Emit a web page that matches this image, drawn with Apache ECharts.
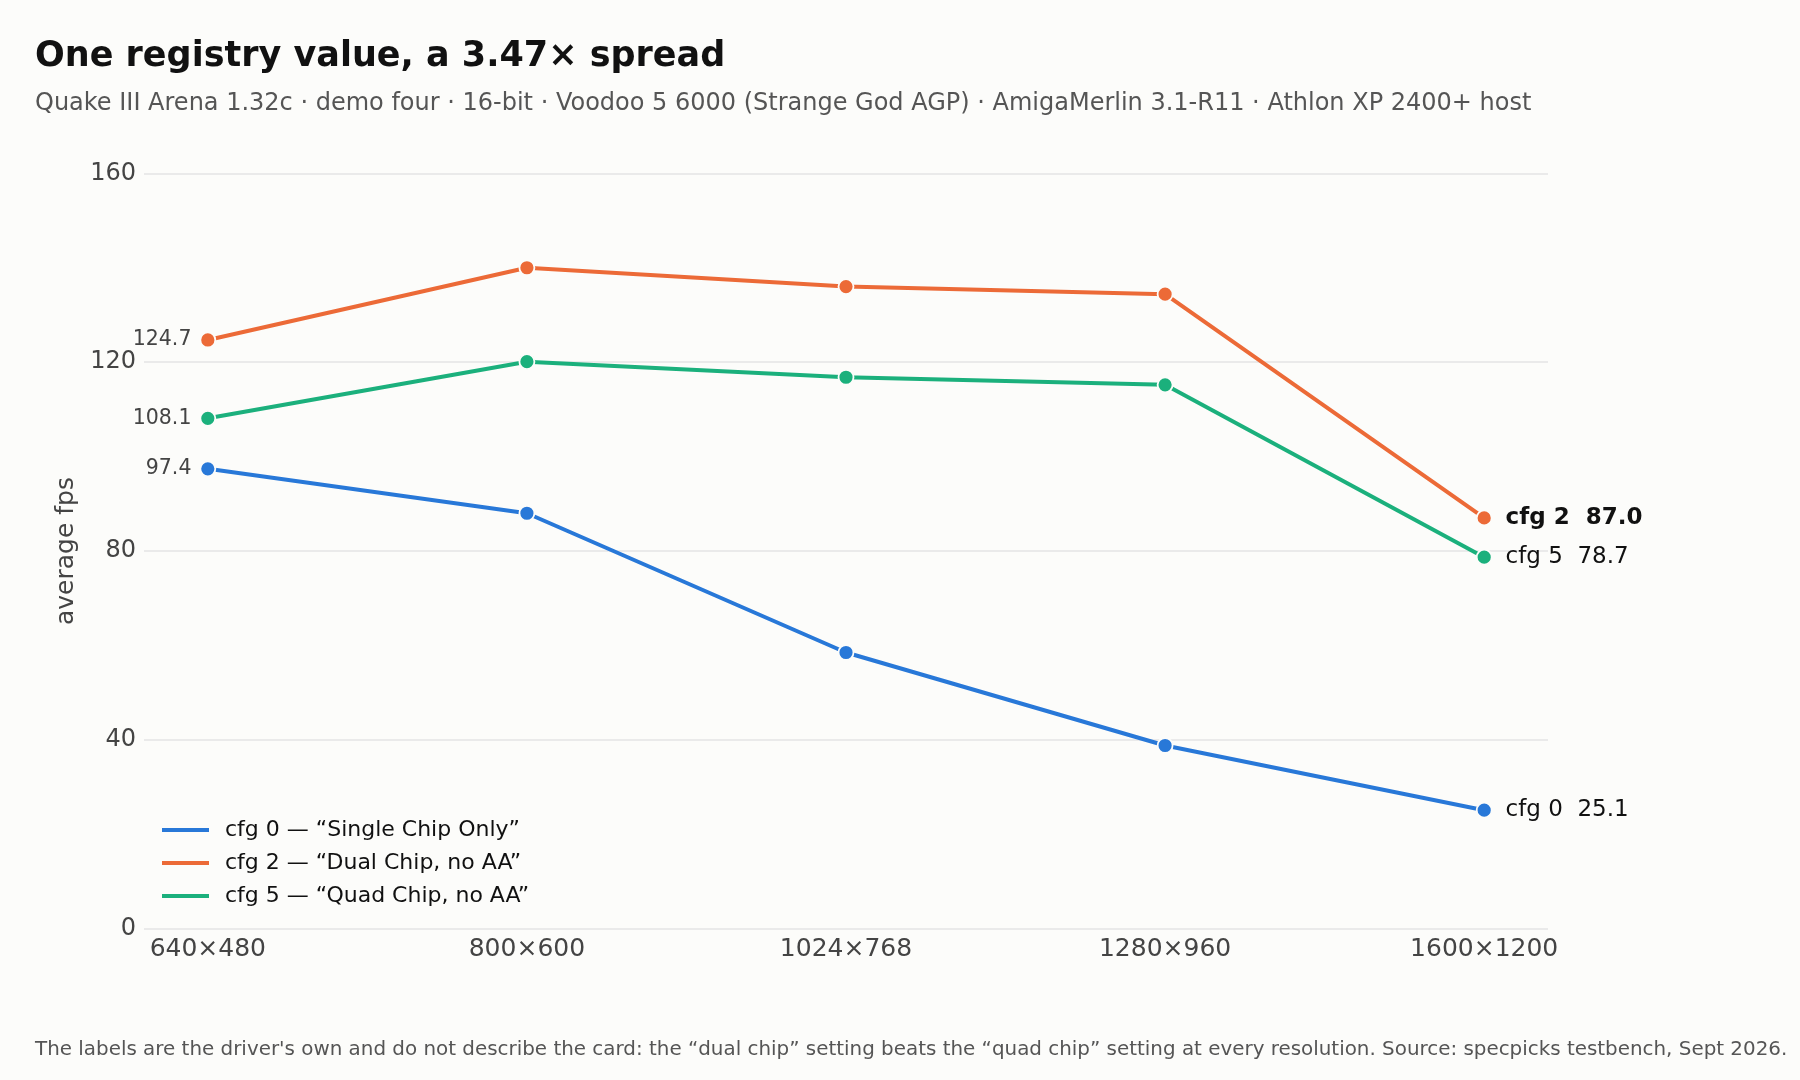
<!DOCTYPE html>
<html>
<head>
<meta charset="utf-8">
<script src="https://cdn.jsdelivr.net/npm/echarts@6/dist/echarts.min.js"></script>
<style>
html,body{margin:0;padding:0;background:#fcfcfa;}
#chart{width:1800px;height:1080px;}
</style>
</head>
<body>
<div id="chart"></div>
<script>
const categories = ['640×480', '800×600', '1024×768', '1280×960', '1600×1200'];
const cfg0 = [97.4, 88.0, 58.5, 38.8, 25.1];
const cfg2 = [124.7, 140.0, 136.0, 134.4, 87.0];
const cfg5 = [108.1, 120.1, 116.8, 115.2, 78.7];
const seriesNames = ['cfg 0 — “Single Chip Only”', 'cfg 2 — “Dual Chip, no AA”', 'cfg 5 — “Quad Chip, no AA”'];
const shortNames = ['cfg 0', 'cfg 2', 'cfg 5'];
const yTicks = [0, 40, 80, 120, 160];

const FONT = 'DejaVu Sans';
const colors = ['#2878d8', '#ec6a37', '#1bb07c'];
const BG = '#fcfcfa';

function buildData(vals, idx) {
  return vals.map(function (v, i) {
    const item = { value: [i, v] };
    if (i === 0) {
      item.label = {
        show: true, position: 'left', distance: 8,
        formatter: v.toFixed(1), color: '#444', fontSize: 20.5, fontFamily: FONT
      };
    } else if (i === vals.length - 1) {
      item.label = {
        show: true, position: 'right', distance: 13,
        formatter: shortNames[idx] + '  ' + v.toFixed(1),
        color: '#111', fontSize: 23, fontFamily: FONT,
        fontWeight: idx === 1 ? 'bold' : 'normal'
      };
    }
    return item;
  });
}

const all = [cfg0, cfg2, cfg5];
const series = all.map(function (vals, idx) {
  return {
    name: seriesNames[idx],
    type: 'line',
    data: buildData(vals, idx),
    symbol: 'circle',
    symbolSize: 15,
    lineStyle: { width: 4, color: colors[idx] },
    itemStyle: { color: colors[idx], borderColor: BG, borderWidth: 1.8 },
    emphasis: { disabled: true },
    z: 3 + idx
  };
});

const chart = echarts.init(document.getElementById('chart'), null, { renderer: 'canvas' });
chart.setOption({
  backgroundColor: BG,
  animation: false,
  color: colors,
  title: [
    { text: 'One registry value, a 3.47× spread', left: 35, top: 39, padding: 0,
      textStyle: { fontFamily: FONT, fontSize: 35, fontWeight: 'bold', color: '#111' } },
    { text: 'Quake III Arena 1.32c · demo four · 16-bit · Voodoo 5 6000 (Strange God AGP) · AmigaMerlin 3.1-R11 · Athlon XP 2400+ host',
      left: 35, top: 92, padding: 0,
      textStyle: { fontFamily: FONT, fontSize: 24, fontWeight: 'normal', color: '#555' } },
    { text: 'The labels are the driver\'s own and do not describe the card: the “dual chip” setting beats the “quad chip” setting at every resolution. Source: specpicks testbench, Sept 2026.',
      left: 35, top: 1040, padding: 0,
      textStyle: { fontFamily: FONT, fontSize: 19.9, fontWeight: 'normal', color: '#555' } }
  ],
  legend: {
    orient: 'vertical', left: 162, top: 819, padding: 0,
    icon: 'rect', itemWidth: 47, itemHeight: 4, itemGap: 11,
    itemStyle: { borderWidth: 0 },
    textStyle: { fontFamily: FONT, fontSize: 22, color: '#111', padding: [0, 0, 0, 11], lineHeight: 22 },
    data: seriesNames
  },
  grid: { left: 144, right: 252, top: 173.3, bottom: 151.3, containLabel: false },
  xAxis: {
    type: 'value', min: -0.2, max: 4.2,
    axisLine: { show: false }, axisTick: { show: false }, splitLine: { show: false },
    axisLabel: {
      customValues: [0, 1, 2, 3, 4],
      formatter: function (v) { return categories[Math.round(v)] || ''; },
      fontFamily: FONT, fontSize: 25, color: '#444', margin: 8
    }
  },
  yAxis: {
    type: 'value', min: 0, max: 160, interval: 40,
    name: 'average fps', nameLocation: 'middle', nameRotate: 90, nameGap: 64,
    nameTextStyle: { fontFamily: FONT, fontSize: 25, color: '#444' },
    axisLine: { show: false }, axisTick: { show: false },
    axisLabel: { fontFamily: FONT, fontSize: 24, color: '#444', margin: 8,
      formatter: function (v) { return yTicks.indexOf(v) >= 0 ? String(v) : ''; } },
    splitLine: { show: true, lineStyle: { color: '#e4e4e4', width: 1.5 } }
  },
  series: series
});
</script>
</body>
</html>
